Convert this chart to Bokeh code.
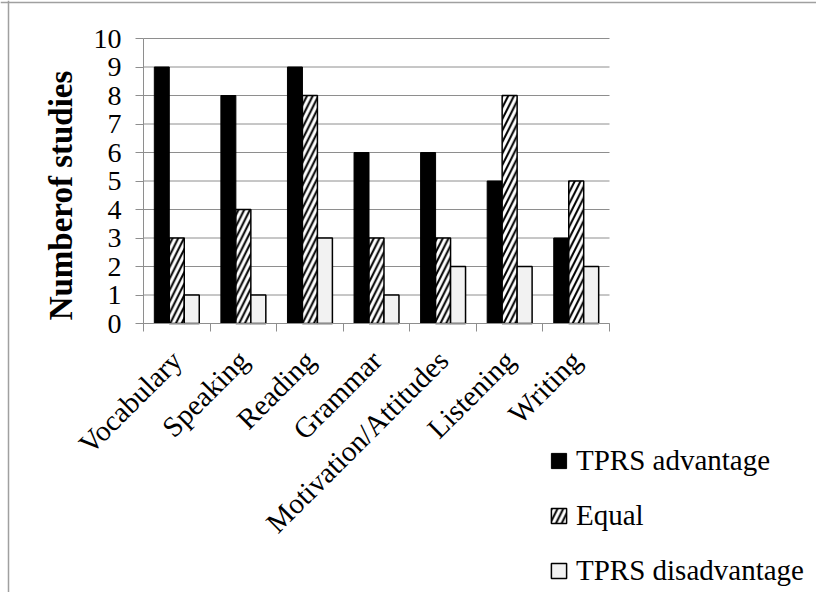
from bokeh.plotting import figure
from bokeh.models import (ColumnDataSource, FixedTicker, Range1d, Legend, LegendItem,
                          Label, Span)
from bokeh.transform import dodge
from bokeh.embed import file_html
from bokeh.resources import INLINE
import math

categories = ["Vocabulary", "Speaking", "Reading", "Grammar", "Motivation/Attitudes", "Listening", "Writing"]
advantage = [9, 8, 9, 6, 6, 5, 3]
equal = [3, 4, 8, 3, 3, 8, 5]
disadvantage = [1, 1, 3, 1, 2, 2, 2]
y_ticks = list(range(0, 11))
series_names = ["TPRS advantage", "Equal", "TPRS disadvantage"]
y_label = "Numberof studies"

positions = list(range(1, len(categories) + 1))
src = ColumnDataSource(dict(x=positions, adv=advantage, eq=equal, dis=disadvantage))

FONT = "Liberation Serif"
GRID = "#8e8e8e"

# layout (page pixels)
FIG_X, FIG_Y = 1, 1
W, H = 816, 592
AX_LEFT, AX_RIGHT, AX_TOP, AX_BOTTOM = 144, 610, 39, 324
n = len(categories)
ymax = y_ticks[-1]
px_x = (AX_RIGHT - AX_LEFT) / n
px_y = (AX_BOTTOM - AX_TOP) / ymax
x0 = 0.5 - (AX_LEFT - FIG_X) / px_x
x1 = x0 + W / px_x
y1 = ymax + (AX_TOP - FIG_Y) / px_y
y0 = y1 - H / px_y

p = figure(width=W, height=H, output_backend="svg", toolbar_location=None,
           x_range=Range1d(x0, x1), y_range=Range1d(y0, y1), min_border=0)
p.outline_line_color = None
p.background_fill_color = "white"
p.border_fill_color = "white"

# grid lines restricted to the plot area
p.segment(x0=[0.5] * len(y_ticks), x1=[n + 0.5] * len(y_ticks), y0=y_ticks, y1=y_ticks,
          line_color=GRID, line_width=1)

w = 0.225
r1 = p.vbar(x=dodge("x", -w, range=p.x_range), top="adv", width=w, source=src,
            fill_color="black", line_color="black", line_width=1)
r2 = p.vbar(x=dodge("x", 0, range=p.x_range), top="eq", width=w, source=src,
            fill_color="white", line_color="black", line_width=1.5,
            hatch_pattern="/", hatch_color="black", hatch_weight=2, hatch_scale=11.5)
r3 = p.vbar(x=dodge("x", w, range=p.x_range), top="dis", width=w, source=src,
            fill_color="#f2f2f2", line_color="black", line_width=1.5)

# y axis
p.yaxis.fixed_location = 0.5
p.yaxis.bounds = (0, ymax)
p.yaxis.ticker = FixedTicker(ticks=y_ticks)
p.yaxis.axis_line_color = GRID
p.yaxis.major_tick_line_color = GRID
p.yaxis.major_tick_out = 8
p.yaxis.major_tick_in = 0
p.yaxis.minor_tick_line_color = None
p.yaxis.major_label_text_font = FONT
p.yaxis.major_label_text_font_size = "28px"
p.yaxis.major_label_text_color = "black"
p.yaxis.major_label_standoff = 14

# x axis
p.xaxis.fixed_location = 0
p.xaxis.bounds = (0.5, n + 0.5)
p.xaxis.ticker = FixedTicker(ticks=positions, minor_ticks=[i + 0.5 for i in range(n + 1)])
p.xaxis.major_label_overrides = {pos: name for pos, name in zip(positions, categories)}
p.xaxis.major_label_orientation = math.pi / 4
p.xaxis.axis_line_color = GRID
p.xaxis.major_tick_line_color = None
p.xaxis.major_tick_out = 0
p.xaxis.major_tick_in = 0
p.xaxis.minor_tick_line_color = GRID
p.xaxis.minor_tick_out = 8
p.xaxis.minor_tick_in = 0
p.xaxis.major_label_text_font = FONT
p.xaxis.major_label_text_font_size = "29px"
p.xaxis.major_label_text_color = "black"
p.xaxis.major_label_standoff = 24

p.xgrid.grid_line_color = None
p.ygrid.grid_line_color = None

# y axis title
p.add_layout(Label(x=61 - FIG_X, y=FIG_Y + H - 196, x_units="screen", y_units="screen",
                   text=y_label, angle=math.pi / 2, text_align="center", text_baseline="middle",
                   text_font=FONT, text_font_size="33px", text_font_style="bold",
                   text_color="black"))

# chart border (top and left)
p.add_layout(Span(location=9 - FIG_X, location_units="screen", dimension="height",
                  line_color="#a0a0a0", line_width=1.5))
p.add_layout(Span(location=FIG_Y + H - 3, location_units="screen", dimension="width",
                  line_color="#a0a0a0", line_width=1.5))

legend = Legend(items=[LegendItem(label=series_names[0], renderers=[r1]),
                       LegendItem(label=series_names[1], renderers=[r2]),
                       LegendItem(label=series_names[2], renderers=[r3])],
                location=(550 - FIG_X, FIG_Y + H - 588), orientation="vertical",
                glyph_width=19, glyph_height=19, label_standoff=8,
                label_height=30, spacing=22, padding=0, margin=0,
                label_text_font=FONT, label_text_font_size="29px", label_text_color="black",
                border_line_color=None, background_fill_alpha=0)
p.add_layout(legend, "center")

open("out.html", "w").write(file_html(p, INLINE))
